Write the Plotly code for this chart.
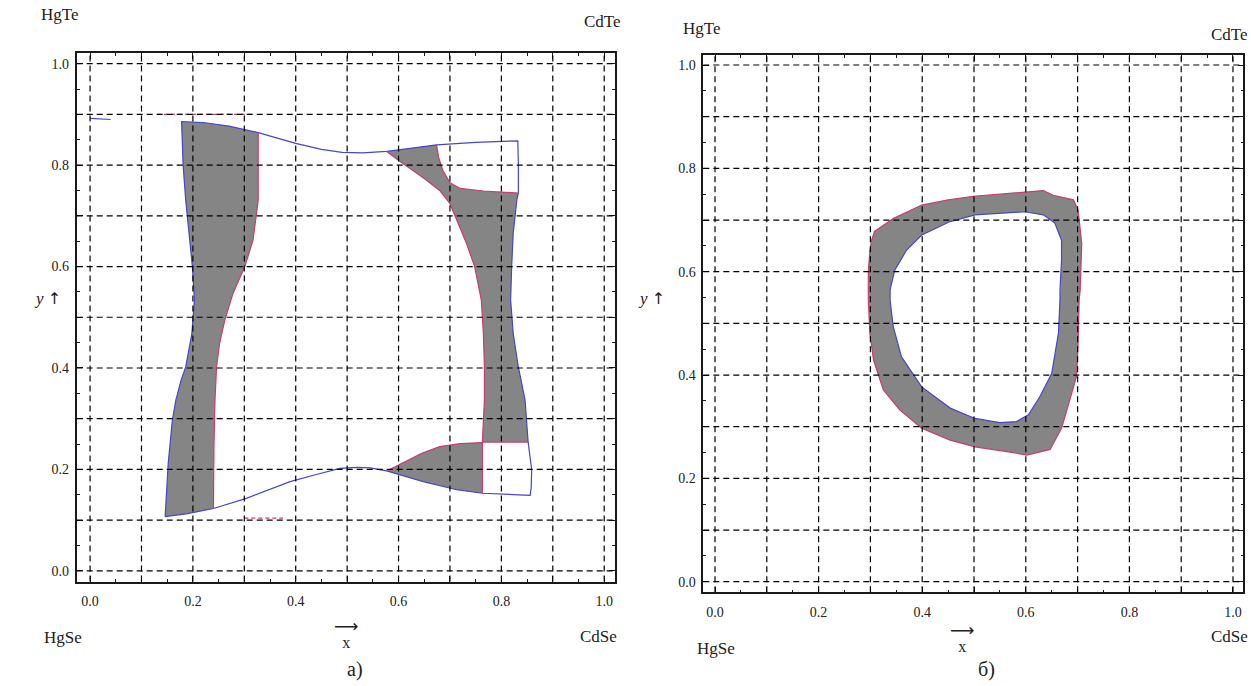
import plotly.graph_objects as go

# ---------------- data ----------------
tick_vals = [0.0, 0.1, 0.2, 0.3, 0.4, 0.5, 0.6, 0.7, 0.8, 0.9, 1.0]
tick_text = ["0.0", "", "0.2", "", "0.4", "", "0.6", "", "0.8", "", "1.0"]
minor_vals = [0.05, 0.15, 0.25, 0.35, 0.45, 0.55, 0.65, 0.75, 0.85, 0.95]
grid_vals = tick_vals

# panel a) : blue outer envelope, split into segments
seg_left = [(0.146, 0.107), (0.148, 0.15), (0.152, 0.212), (0.160, 0.297), (0.167, 0.337),
            (0.177, 0.376), (0.186, 0.402), (0.198, 0.468), (0.203, 0.534), (0.199, 0.600),
            (0.191, 0.675), (0.186, 0.731), (0.181, 0.80), (0.178, 0.886)]
seg_top_a = [(0.178, 0.886), (0.22, 0.884), (0.27, 0.877), (0.327, 0.864)]
seg_top_b = [(0.327, 0.864), (0.37, 0.852), (0.40, 0.843), (0.45, 0.831), (0.49, 0.825),
             (0.53, 0.824), (0.577, 0.827)]
seg_top_c = [(0.577, 0.827), (0.63, 0.834), (0.674, 0.840)]
seg_top_d = [(0.674, 0.840), (0.75, 0.845), (0.832, 0.848)]
seg_right_a = [(0.832, 0.848), (0.833, 0.80), (0.833, 0.745)]
seg_right_b = [(0.833, 0.745), (0.830, 0.731), (0.823, 0.665), (0.820, 0.600), (0.818, 0.534),
               (0.823, 0.468), (0.833, 0.402), (0.846, 0.337), (0.852, 0.254)]
seg_right_c = [(0.852, 0.254), (0.859, 0.199), (0.858, 0.165), (0.856, 0.149)]
seg_bot_a = [(0.856, 0.149), (0.80, 0.151), (0.763, 0.153)]
seg_bot_b = [(0.763, 0.153), (0.713, 0.160), (0.648, 0.176), (0.577, 0.197)]
seg_bot_c = [(0.577, 0.197), (0.545, 0.203), (0.518, 0.204), (0.486, 0.202), (0.44, 0.19),
             (0.389, 0.176), (0.304, 0.143), (0.240, 0.123)]
seg_bot_d = [(0.240, 0.123), (0.19, 0.113), (0.146, 0.107)]

# panel a) : red inner boundaries
red_a = [(0.327, 0.864), (0.327, 0.80), (0.327, 0.731), (0.317, 0.652), (0.301, 0.600),
         (0.278, 0.547), (0.262, 0.494), (0.252, 0.449), (0.246, 0.402), (0.243, 0.337),
         (0.241, 0.25), (0.240, 0.123)]
red_b = [(0.674, 0.840), (0.678, 0.815), (0.686, 0.790), (0.700, 0.765), (0.72, 0.754),
         (0.765, 0.749), (0.833, 0.745)]
red_c = [(0.577, 0.827), (0.603, 0.807), (0.648, 0.775), (0.68, 0.75), (0.700, 0.724),
         (0.713, 0.692), (0.732, 0.646), (0.748, 0.600), (0.761, 0.534), (0.765, 0.468),
         (0.767, 0.40), (0.767, 0.337), (0.763, 0.254)]
red_d = [(0.763, 0.254), (0.852, 0.254)]
red_e = [(0.577, 0.197), (0.60, 0.209), (0.616, 0.218), (0.645, 0.232), (0.680, 0.245),
         (0.72, 0.251), (0.763, 0.253)]
red_f = [(0.763, 0.253), (0.763, 0.153)]

# small stray marks in panel a)
stray_red = [(0.13, 0.90), (0.32, 0.90)]
stray_red2 = [(0.30, 0.104), (0.375, 0.104)]
stray_blue = [(0.0, 0.892), (0.04, 0.890)]

# panel б) : ring
ring_outer = [(0.296, 0.545), (0.296, 0.60), (0.299, 0.64), (0.302, 0.660), (0.308, 0.678),
              (0.344, 0.703), (0.399, 0.729), (0.45, 0.739), (0.499, 0.746), (0.598, 0.755),
              (0.634, 0.757), (0.653, 0.748), (0.692, 0.739), (0.701, 0.719), (0.708, 0.655),
              (0.705, 0.565), (0.703, 0.545), (0.701, 0.461), (0.698, 0.398), (0.685, 0.352),
              (0.669, 0.297), (0.647, 0.256), (0.602, 0.245), (0.576, 0.250), (0.502, 0.261),
              (0.454, 0.274), (0.399, 0.297), (0.357, 0.332), (0.325, 0.371), (0.306, 0.429),
              (0.299, 0.481), (0.296, 0.545)]
ring_inner = [(0.338, 0.545), (0.338, 0.565), (0.347, 0.603), (0.370, 0.642), (0.399, 0.671),
              (0.454, 0.697), (0.502, 0.710), (0.598, 0.716), (0.634, 0.710), (0.656, 0.694),
              (0.669, 0.661), (0.669, 0.622), (0.666, 0.565), (0.666, 0.545), (0.663, 0.481),
              (0.650, 0.403), (0.627, 0.358), (0.605, 0.323), (0.582, 0.310), (0.550, 0.308),
              (0.502, 0.316), (0.454, 0.336), (0.399, 0.377), (0.360, 0.435), (0.344, 0.494),
              (0.338, 0.545)]

# ---------------- style ----------------
GRAY = "#858585"
BLUE = "#4646c8"
RED = "#c83c74"
SERIF = "Liberation Serif"
W, H = 1251, 686


def xs(seg):
    return [p[0] for p in seg]


def ys(seg):
    return [p[1] for p in seg]


def join(*segs):
    out = []
    for s in segs:
        out.extend(s if not out else s[1:])
    return out


def multi(*segs):
    x, y = [], []
    for s in segs:
        x += xs(s) + [None]
        y += ys(s) + [None]
    return x, y


fig = go.Figure()

# gray filled regions, panel a)
poly1 = join(seg_left, seg_top_a, red_a, seg_bot_d)
poly2 = join(seg_top_c, red_b, seg_right_b, red_d[::-1], red_c[::-1])
poly3 = join(red_e, red_f, seg_bot_b)
for poly in (poly1, poly2, poly3):
    fig.add_trace(go.Scatter(x=xs(poly), y=ys(poly), mode="lines", fill="toself",
                             fillcolor=GRAY, line=dict(width=0, color="rgba(0,0,0,0)"),
                             hoverinfo="skip", xaxis="x", yaxis="y"))

# outlines panel a)
env = join(seg_left, seg_top_a, seg_top_b, seg_top_c, seg_top_d, seg_right_a, seg_right_b,
           seg_right_c, seg_bot_a, seg_bot_b, seg_bot_c, seg_bot_d)
fig.add_trace(go.Scatter(x=xs(env), y=ys(env), mode="lines", line=dict(color=BLUE, width=1.2),
                         hoverinfo="skip", xaxis="x", yaxis="y"))
rx, ry = multi(red_a, red_b, red_c, red_d, red_e, red_f)
fig.add_trace(go.Scatter(x=rx, y=ry, mode="lines", line=dict(color=RED, width=1.2),
                         hoverinfo="skip", xaxis="x", yaxis="y"))
sx, sy = multi(stray_red, stray_red2)
fig.add_trace(go.Scatter(x=sx, y=sy, mode="lines", line=dict(color=RED, width=1.2, dash="4px,3px"),
                         hoverinfo="skip", xaxis="x", yaxis="y"))
fig.add_trace(go.Scatter(x=xs(stray_blue), y=ys(stray_blue), mode="lines",
                         line=dict(color=BLUE, width=1.2), hoverinfo="skip", xaxis="x", yaxis="y"))

# ring panel б)
ring_poly = ring_outer + ring_inner[::-1]
fig.add_trace(go.Scatter(x=xs(ring_poly), y=ys(ring_poly), mode="lines", fill="toself",
                         fillcolor=GRAY, line=dict(width=0, color="rgba(0,0,0,0)"),
                         hoverinfo="skip", xaxis="x2", yaxis="y2"))
fig.add_trace(go.Scatter(x=xs(ring_outer), y=ys(ring_outer), mode="lines",
                         line=dict(color=RED, width=1.2), hoverinfo="skip", xaxis="x2", yaxis="y2"))
fig.add_trace(go.Scatter(x=xs(ring_inner), y=ys(ring_inner), mode="lines",
                         line=dict(color=BLUE, width=1.2), hoverinfo="skip", xaxis="x2", yaxis="y2"))


def axis(domain, rng, anchor, standoff):
    return dict(domain=domain, range=rng, anchor=anchor, showgrid=False, zeroline=False,
                showline=True, linecolor="#1a1a1a", linewidth=1.6, mirror="allticks",
                ticks="inside", ticklen=6, tickwidth=1.2, tickcolor="#1a1a1a",
                tickmode="array", tickvals=tick_vals, ticktext=tick_text,
                tickfont=dict(family=SERIF, size=14, color="#222"),
                ticklabelstandoff=standoff,
                minor=dict(tickvals=minor_vals, ticklen=3, tickwidth=1, tickcolor="#1a1a1a",
                           ticks="inside", showgrid=False),
                fixedrange=True)


# panel frames in pixels -> paper domains
L = dict(left=76.7, right=615.0, top=53.3, bottom=581.5, xr=[-0.026, 1.021], yr=[-0.021, 1.0205])
R = dict(left=703.3, right=1243.3, top=55.0, bottom=592.3, xr=[-0.0226, 1.0199], yr=[-0.0205, 1.0194])

fig.update_layout(
    width=W, height=H, margin=dict(l=0, r=0, t=0, b=0),
    paper_bgcolor="white", plot_bgcolor="white", showlegend=False,
    xaxis=axis([L["left"] / W, L["right"] / W], L["xr"], "y", 6),
    yaxis=axis([1 - L["bottom"] / H, 1 - L["top"] / H], L["yr"], "x", 3),
    xaxis2=axis([R["left"] / W, R["right"] / W], R["xr"], "y2", 6),
    yaxis2=axis([1 - R["bottom"] / H, 1 - R["top"] / H], R["yr"], "x2", 3),
)

# dashed grid drawn above the filled regions
shapes = []
for xa, ya in (("x", "y"), ("x2", "y2")):
    for v in grid_vals:
        shapes.append(dict(type="line", xref=xa, yref=ya + " domain", x0=v, x1=v, y0=0, y1=1,
                           line=dict(color="black", width=1.2, dash="6px,4px"), layer="above"))
        shapes.append(dict(type="line", xref=xa + " domain", yref=ya, x0=0, x1=1, y0=v, y1=v,
                           line=dict(color="black", width=1.2, dash="6px,4px"), layer="above"))
fig.update_layout(shapes=shapes)


def note(text, px, py, size=17, family=SERIF):
    fig.add_annotation(text=text, x=px / W, y=1 - py / H, xref="paper", yref="paper",
                       showarrow=False, xanchor="center", yanchor="middle",
                       font=dict(family=family, size=size, color="#222"))


XARROW = "<span style='font-family:DejaVu Sans;font-size:17px'>⟶</span><br><span style='font-size:16px'>x</span>"
YARROW = "<i>y</i> <span style='font-family:DejaVu Sans;font-size:16px'>↑</span>"

# panel a) labels
note("HgTe", 60, 15)
note("CdTe", 602, 22)
note("HgSe", 63, 637)
note("CdSe", 598, 636)
note(XARROW, 346, 633, 12)
note(YARROW, 47, 298, 17)
note("а)", 355, 669, 20)
# panel б) labels
note("HgTe", 702, 28)
note("CdTe", 1229, 34)
note("HgSe", 716, 648)
note("CdSe", 1229, 636)
note(XARROW, 962, 637, 12)
note(YARROW, 651, 298, 17)
note("б)", 986, 669, 20)

fig.write_html(
    "out.html",
    config={"displayModeBar": False},
    post_script="document.body.style.margin='0px';document.body.style.overflow='hidden';",
)
